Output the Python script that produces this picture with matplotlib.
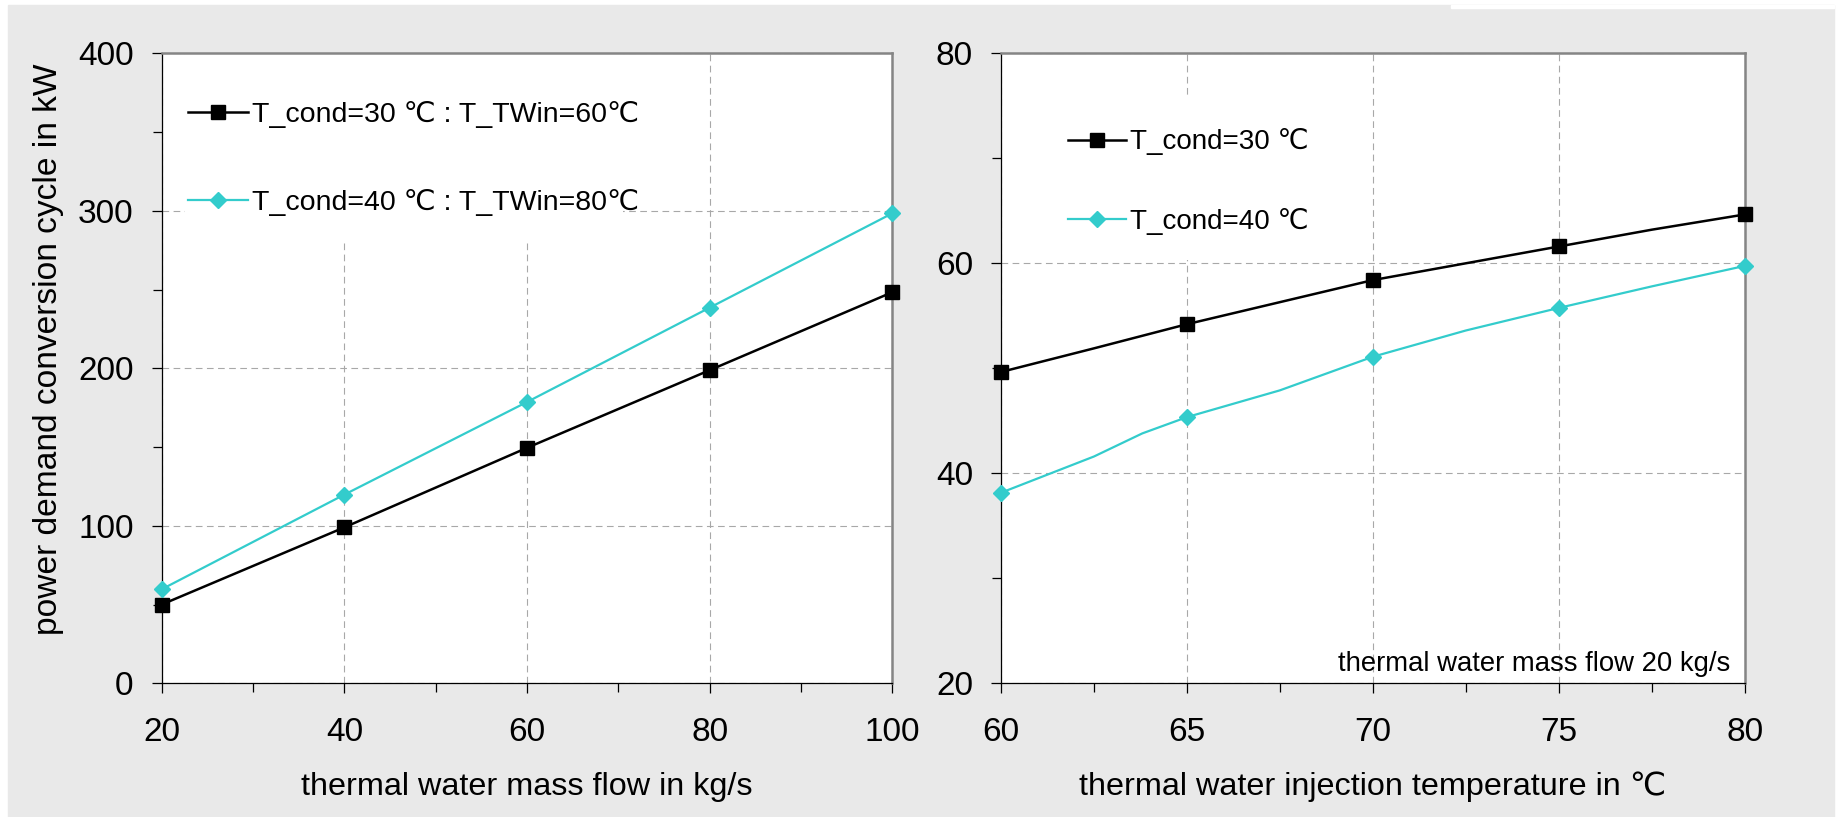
import matplotlib
matplotlib.use('Agg')
import matplotlib.pyplot as plt
from matplotlib.patches import Rectangle
from matplotlib.ticker import MultipleLocator

plt.rcParams['font.family'] = ['Liberation Sans', 'DejaVu Sans']

# ------------------------------------------------------------
# data
# ------------------------------------------------------------
# left: power demand vs thermal water mass flow
flow = [20, 40, 60, 80, 100]
power_c30 = [50, 99, 149.5, 198.8, 248.3]
power_c40 = [59.7, 119.8, 178.6, 238.5, 298.4]
label_c30_left = 'T_cond=30 ℃ : T_TWin=60℃'
label_c40_left = 'T_cond=40 ℃ : T_TWin=80℃'

# right: power demand vs injection temperature (mass flow 20 kg/s)
t_inj_c30 = [60, 62.5, 65, 67.5, 70, 72.5, 75, 77.5, 80]
power_t_c30 = [49.65, 51.9, 54.2, 56.3, 58.4, 60.0, 61.6, 63.2, 64.65]
t_inj_c40 = [60, 62.5, 63.8, 65, 67.5, 70, 72.5, 75, 77.5, 80]
power_t_c40 = [38.15, 41.6, 43.8, 45.35, 47.9, 51.1, 53.6, 55.75, 57.8, 59.75]
marks_c30 = [0, 2, 4, 6, 8]
marks_c40 = [0, 3, 5, 7, 9]
label_c30_right = 'T_cond=30 ℃'
label_c40_right = 'T_cond=40 ℃'

note_right = 'thermal water mass flow 20 kg/s'
ylabel_left = 'power demand conversion cycle in kW'
xlabel_left = 'thermal water mass flow in kg/s'
xlabel_right = 'thermal water injection temperature in ℃'

BLACK = '#000000'
CYAN = '#33CCCC'
W, H = 1837, 817

fig = plt.figure(figsize=(W / 100, H / 100), dpi=100)
fig.patches.append(Rectangle((8 / W, 0), 1826 / W, 1 - 5 / H,
                             transform=fig.transFigure, color='#e9e9e9', zorder=-10))
fig.patches.append(Rectangle((1451 / W, 1 - 8 / H), 383 / W, 3 / H,
                             transform=fig.transFigure, color='white', zorder=-9))

ax1 = fig.add_axes([161.7 / W, 1 - 683.3 / H, 730.6 / W, 630 / H])
ax2 = fig.add_axes([1001 / W, 1 - 683.3 / H, 743.7 / W, 630 / H])


def style(ax):
    ax.set_facecolor('white')
    ax.grid(True, which='major', color='#a8a8a8', linestyle=(0, (6, 4)), linewidth=0.8)
    for side in ['left', 'bottom']:
        ax.spines[side].set_color('black')
        ax.spines[side].set_linewidth(0.9)
    for side in ['top', 'right']:
        ax.spines[side].set_color('#858585')
        ax.spines[side].set_linewidth(1.8)
    ax.tick_params(which='major', direction='out', length=7.2, width=0.9,
                   labelsize=24)
    ax.tick_params(which='minor', direction='out', length=6.5, width=0.9)
    ax.tick_params(axis='x', which='major', pad=17)
    ax.tick_params(axis='y', which='major', pad=13)


# ------------------------------------------------------------
# left panel
# ------------------------------------------------------------
ax1.plot(flow, power_c30, color=BLACK, lw=1.8, marker='s', ms=9.5,
         label=label_c30_left, zorder=3, clip_on=False)
ax1.plot(flow, power_c40, color=CYAN, lw=1.6, marker='D', ms=8,
         label=label_c40_left, zorder=3, clip_on=False)
ax1.set_xlim(20, 100)
ax1.set_ylim(0, 400)
ax1.xaxis.set_major_locator(MultipleLocator(20))
ax1.xaxis.set_minor_locator(MultipleLocator(10))
ax1.yaxis.set_major_locator(MultipleLocator(100))
ax1.yaxis.set_minor_locator(MultipleLocator(50))
style(ax1)
ax1.add_patch(Rectangle((0.032, 0.7037), 0.599, 0.3, transform=ax1.transAxes,
                        facecolor='white', edgecolor='none', zorder=1.7))
ax1.legend(loc='center left', bbox_to_anchor=(188 / W, 1 - 158.5 / H),
           bbox_transform=fig.transFigure, frameon=False, fontsize=20.5,
           borderpad=0, borderaxespad=0, handlelength=2.1,
           handletextpad=0.15, labelspacing=2.15)
ax1.set_xlabel(xlabel_left, fontsize=23.3, labelpad=17)
fig.text(48.6 / W, 1 - 349 / H, ylabel_left, rotation=90, fontsize=24.1,
         ha='center', va='center')

# ------------------------------------------------------------
# right panel
# ------------------------------------------------------------
ax2.plot(t_inj_c30, power_t_c30, color=BLACK, lw=1.8, marker='s', ms=9.5,
         markevery=marks_c30, label=label_c30_right, zorder=3, clip_on=False)
ax2.plot(t_inj_c40, power_t_c40, color=CYAN, lw=1.6, marker='D', ms=8,
         markevery=marks_c40, label=label_c40_right, zorder=3, clip_on=False)
ax2.set_xlim(60, 80)
ax2.set_ylim(20, 80)
ax2.xaxis.set_major_locator(MultipleLocator(5))
ax2.xaxis.set_minor_locator(MultipleLocator(2.5))
ax2.yaxis.set_major_locator(MultipleLocator(20))
ax2.yaxis.set_minor_locator(MultipleLocator(10))
style(ax2)
ax2.add_patch(Rectangle((0.079, 0.672), 0.337, 0.2555, transform=ax2.transAxes,
                        facecolor='white', edgecolor='none', zorder=1.7))
ax2.legend(loc='center left', bbox_to_anchor=(1068 / W, 1 - 181.7 / H),
           bbox_transform=fig.transFigure, frameon=False, fontsize=20,
           borderpad=0, borderaxespad=0, handlelength=2.09,
           handletextpad=0.15, labelspacing=1.9)
ax2.text(0.98, 0.02, note_right, transform=ax2.transAxes, fontsize=19.8,
         ha='right', va='baseline')
ax2.set_xlabel(xlabel_right, fontsize=23.3, labelpad=17)

fig.savefig('out.png', dpi=100, facecolor='white')
